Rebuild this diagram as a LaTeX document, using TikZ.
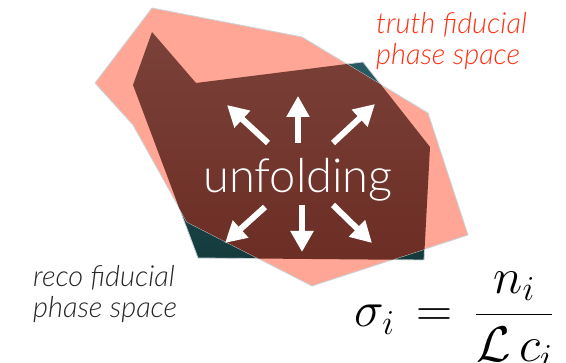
\documentclass[tikz,border=0pt]{standalone}
\usepackage{fix-cm}
\usepackage{amsmath}
\usepackage{xcolor}
\usepackage{fontspec}
\newfontfamily\lightfont{Lato Light}
\newfontfamily\lightitfont{Lato Light Italic}
\usetikzlibrary{arrows.meta}

\definecolor{salmonfill}{RGB}{255,166,150}
\definecolor{tealtop}{RGB}{44,94,104}
\definecolor{tealbot}{RGB}{20,58,60}
\definecolor{browntop}{RGB}{124,68,60}
\definecolor{brownbot}{RGB}{106,43,34}
\definecolor{edgegray}{RGB}{200,212,216}
\definecolor{truthred}{RGB}{255,50,20}

% the two regions, in pixel units of the slide
\newcommand{\recoshape}{(152,32) -- (196,83) -- (363,62) -- (430,147)
  -- (424,260) -- (198,258) -- (133,85) -- cycle}
\newcommand{\truthshape}{(152,8) -- (302,37) -- (428,113) -- (468,235)
  -- (312,286) -- (187,222) -- (133,125) -- (95,83) -- cycle}

\begin{document}
\begin{tikzpicture}[
    x=1pt, y=-1pt,
    region/.style={draw=edgegray, line width=0.8pt, line join=round},
    fatarrow/.style={-{Triangle[length=21pt, width=22pt]}, line width=6pt, white},
    phaselabel/.style={font=\lightitfont\fontsize{29}{31.5}\selectfont,
                       align=left, inner sep=0pt}
  ]
    \useasboundingbox (0,0) rectangle (566,363);

    % reco region below, truth region on top, overlap in brown
    \path[region, top color=tealtop, bottom color=tealbot] \recoshape;
    \path[region, fill=salmonfill] \truthshape;
    \begin{scope}
      \clip \recoshape;
      \path[top color=browntop, bottom color=brownbot] \truthshape;
    \end{scope}

    \node[font=\lightfont\fontsize{47}{50}\selectfont, text=white, anchor=base]
      (unfold) at (298,193) {unfolding};

    \coordinate (ul-s) at (268,143); \coordinate (ul-e) at (227,105);
    \coordinate (u-s) at (298,143);  \coordinate (u-e) at (298,96);
    \coordinate (ur-s) at (333,143); \coordinate (ur-e) at (375,104);
    \coordinate (dl-s) at (265,207); \coordinate (dl-e) at (225,243);
    \coordinate (d-s) at (302,205);  \coordinate (d-e) at (302,252);
    \coordinate (dr-s) at (333,205); \coordinate (dr-e) at (372,243);
    \draw[fatarrow] (ul-s) -- (ul-e);
    \draw[fatarrow] (u-s) -- (u-e);
    \draw[fatarrow] (ur-s) -- (ur-e);
    \draw[fatarrow] (dl-s) -- (dl-e);
    \draw[fatarrow] (d-s) -- (d-e);
    \draw[fatarrow] (dr-s) -- (dr-e);

    \node[phaselabel, text=truthred, anchor=north west] (truth) at (376,12)
      {truth fiducial\\phase space};
    \node[phaselabel, text=black!85, anchor=north west] (reco) at (33,265)
      {reco fiducial\\phase space};

    \node[font=\fontsize{50}{60}\selectfont, anchor=base west] (xsec) at (351,327)
      {$\sigma_i \,=\, \dfrac{n_i}{\mathcal{L}\,c_i}$};
  \end{tikzpicture}
\end{document}
